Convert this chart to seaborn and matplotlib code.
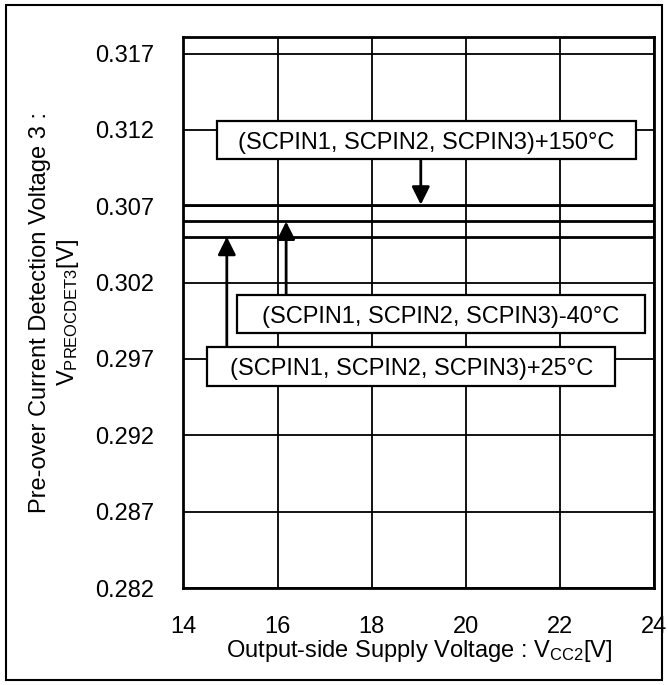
import matplotlib
matplotlib.use("Agg")
import matplotlib.pyplot as plt
from matplotlib.patches import Rectangle
import seaborn as sns
import pandas as pd

# Supply voltage sweep and measured detection voltage per temperature
vcc2 = [14, 16, 18, 20, 22, 24]
v_150c = [0.3071, 0.3071, 0.3071, 0.3071, 0.3071, 0.3071]
v_m40c = [0.3060, 0.3060, 0.3060, 0.3060, 0.3060, 0.3060]
v_25c = [0.3050, 0.3050, 0.3050, 0.3050, 0.3050, 0.3050]

series_names = ["(SCPIN1, SCPIN2, SCPIN3)+150°C",
                "(SCPIN1, SCPIN2, SCPIN3)-40°C",
                "(SCPIN1, SCPIN2, SCPIN3)+25°C"]

x_ticks = [14, 16, 18, 20, 22, 24]
y_ticks = [0.282, 0.287, 0.292, 0.297, 0.302, 0.307, 0.312, 0.317]

df = pd.concat([
    pd.DataFrame({"vcc2": vcc2, "v": v_150c, "cond": series_names[0]}),
    pd.DataFrame({"vcc2": vcc2, "v": v_m40c, "cond": series_names[1]}),
    pd.DataFrame({"vcc2": vcc2, "v": v_25c, "cond": series_names[2]}),
])

sns.set_theme(style="white")
plt.rcParams["font.family"] = ["Liberation Sans", "DejaVu Sans"]
plt.rcParams["mathtext.fontset"] = "custom"
plt.rcParams["mathtext.rm"] = "Liberation Sans"
plt.rcParams["mathtext.it"] = "Liberation Sans"

FS = 17

fig = plt.figure(figsize=(6.68, 6.85), dpi=100)
ax = fig.add_axes([0.2747, 0.1416, 0.7048, 0.8048])

sns.lineplot(data=df, x="vcc2", y="v", hue="cond",
             palette=["black", "black", "black"], linewidth=2.0,
             legend=False, ax=ax, zorder=3)

ax.set_xlim(14, 24)
ax.set_ylim(0.282, 0.3181)
ax.set_xticks(x_ticks)
ax.set_xticklabels([str(t) for t in x_ticks])
ax.set_yticks(y_ticks)
ax.set_yticklabels([f"{t:.3f}" for t in y_ticks])
ax.tick_params(axis="both", length=0, labelsize=FS, colors="black")
ax.tick_params(axis="y", pad=21)
ax.tick_params(axis="x", pad=20)
ax.grid(True, color="black", linewidth=1.3)
for s in ax.spines.values():
    s.set_color("black")
    s.set_linewidth(2.0)

ax.set_xlabel("Output-side Supply Voltage : V$_{\\mathrm{CC2}}$[V]",
              fontsize=FS, color="black", labelpad=0)
ax.set_ylabel("Pre-over Current Detection Voltage 3 :\nV$_{\\mathrm{PREOCDET3}}$[V]",
              fontsize=FS, color="black", labelpad=10, linespacing=1.25)

# Label boxes (x0, x1, y0, y1 in data units) with centred captions
boxes = [(14.705, 23.61, 0.31007, 0.31255),
         (15.13, 23.80, 0.29870, 0.30117),
         (14.505, 23.165, 0.29524, 0.29775)]
for (x0, x1, y0, y1), name in zip(boxes, series_names):
    ax.add_patch(Rectangle((x0, y0), x1 - x0, y1 - y0, facecolor="white",
                           edgecolor="black", linewidth=1.6, zorder=5))
    ax.text((x0 + x1) / 2, (y0 + y1) / 2, name, fontsize=FS, ha="center",
            va="center_baseline", color="black", zorder=6)

arrow = dict(arrowstyle="-|>,head_length=0.72,head_width=0.36", color="black",
             lw=2, shrinkA=0, shrinkB=0, mutation_scale=15)
ax.annotate("", xy=(19.04, v_150c[0]), xytext=(19.04, boxes[0][2]), arrowprops=arrow, zorder=4)
ax.annotate("", xy=(16.18, v_m40c[0]), xytext=(16.18, boxes[1][3]), arrowprops=arrow, zorder=4)
ax.annotate("", xy=(14.92, v_25c[0]), xytext=(14.92, boxes[2][3]), arrowprops=arrow, zorder=4)

fig.patches.append(Rectangle((0.009, 0.007), 0.982, 0.985, transform=fig.transFigure,
                             fill=False, edgecolor="black", linewidth=1.5))

fig.savefig("out.png", dpi=100)
